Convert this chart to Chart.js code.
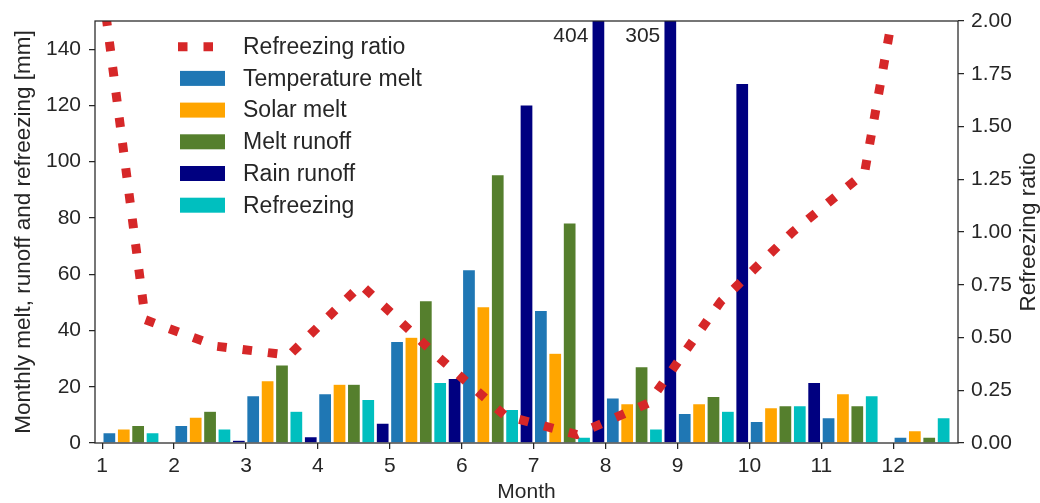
<!DOCTYPE html>
<html>
<head>
<meta charset="utf-8">
<title>Monthly melt, runoff and refreezing</title>
<script src="https://cdn.jsdelivr.net/npm/chart.js@4.4.1/dist/chart.umd.min.js"></script>
<style>
  html, body { margin: 0; padding: 0; background: #fff; }
  #chart { display: block; }
</style>
</head>
<body>
<canvas id="chart" width="1040" height="503"></canvas>
<script>
// ---------------------------------------------------------------------------
// Data (mm per month, ratio is unitless)
// ---------------------------------------------------------------------------
const months = [1, 2, 3, 4, 5, 6, 7, 8, 9, 10, 11, 12];

const temperatureMelt = [3.7, 6.3, 16.8, 17.5, 36.1, 61.6, 47.1, 16.0, 10.5, 7.7, 9.0, 2.1];
const solarMelt       = [5.0, 9.2, 22.2, 20.9, 37.6, 48.5, 31.9, 14.0, 14.0, 12.6, 17.5, 4.4];
const meltRunoff      = [6.3, 11.3, 27.8, 20.9, 50.6, 95.4, 78.2, 27.1, 16.6, 13.3, 13.3, 2.1];
const rainRunoff      = [0, 1.0, 2.3, 7.1, 23.0, 120.2, 404, 305, 127.8, 21.5, 0, 0];
const refreezing      = [3.7, 5.0, 11.3, 15.5, 21.5, 11.9, 2.1, 5.0, 11.3, 13.3, 16.8, 9.0];

// refreezing ratio, sampled between the monthly bar groups
const ratioMonths = [0.6, 1.6, 2.6, 3.6, 4.6, 5.6, 6.6, 7.6, 8.6, 9.6, 10.6, 11.6, 12.6];
const ratioValues = [3.22, 0.584, 0.458, 0.416, 0.75, 0.43, 0.13, 0.04, 0.19, 0.67, 1.0, 1.28, 3.19];

const leftTicks = [0, 20, 40, 60, 80, 100, 120, 140];
const rightTicks = [0, 0.25, 0.5, 0.75, 1.0, 1.25, 1.5, 1.75, 2.0];

// ---------------------------------------------------------------------------
// Style
// ---------------------------------------------------------------------------
const INK = '#262626';
const FAMILY = "'Liberation Sans', Arial, sans-serif";
const TICK_SIZE = 21;
const TITLE_SIZE = 22.5;
const LEGEND_SIZE = 23;

const tickFont = { family: FAMILY, size: TICK_SIZE };

// bars sit side by side inside each month, 0.2 month apart
function barPoints(values, offset) {
  return values.map((v, i) => ({ x: months[i] + offset, y: v }));
}

function barDataset(label, values, offset, color) {
  return {
    type: 'bar',
    label,
    data: barPoints(values, offset),
    backgroundColor: color,
    borderColor: '#ffffff',
    borderWidth: 0.6,
    grouped: false,
    barPercentage: 0.9,
    categoryPercentage: 1.0,
    yAxisID: 'y',
    order: 1
  };
}

// ---------------------------------------------------------------------------
// Plugins
// ---------------------------------------------------------------------------

// Full box around the plot, drawn over the bars
const frameBox = {
  id: 'frameBox',
  afterDatasetsDraw(chart) {
    const { ctx, chartArea: a } = chart;
    ctx.save();
    ctx.strokeStyle = INK;
    ctx.lineWidth = 1.25;
    ctx.strokeRect(a.left, a.top, a.right - a.left, a.bottom - a.top);
    ctx.restore();
  }
};

// Values of bars that run past the top of the axis are written beside them
const overflowLabels = {
  id: 'overflowLabels',
  afterDatasetsDraw(chart, args, opts) {
    const { ctx } = chart;
    const xs = chart.scales.x;
    const ys = chart.scales.y;
    ctx.save();
    ctx.font = `${TICK_SIZE}px ${FAMILY}`;
    ctx.fillStyle = INK;
    ctx.textAlign = 'right';
    ctx.textBaseline = 'middle';
    chart.data.datasets.forEach(ds => {
      if (!ds.labelOverflow) return;
      ds.data.forEach(p => {
        if (p.y <= ys.max) return;
        ctx.fillText(String(p.y), xs.getPixelForValue(p.x - opts.shift), ys.getPixelForValue(opts.at));
      });
    });
    ctx.restore();
  }
};

// Legend placed inside the plot, upper left
const insetLegend = {
  id: 'insetLegend',
  afterDraw(chart, args, opts) {
    const { ctx, chartArea } = chart;
    const x0 = chartArea.left + opts.left;
    let y = chartArea.top + opts.top;
    ctx.save();
    ctx.font = `${LEGEND_SIZE}px ${FAMILY}`;
    ctx.textBaseline = 'middle';
    chart.data.datasets.forEach(ds => {
      if (ds.type === 'line') {
        ctx.save();
        ctx.strokeStyle = ds.borderColor;
        ctx.lineWidth = ds.borderWidth;
        ctx.setLineDash(ds.borderDash);
        ctx.beginPath();
        ctx.moveTo(x0 - 2, y);
        ctx.lineTo(x0 + opts.handle, y);
        ctx.stroke();
        ctx.restore();
      } else {
        ctx.fillStyle = ds.backgroundColor;
        ctx.fillRect(x0, y - opts.patch / 2, opts.handle, opts.patch);
      }
      ctx.fillStyle = INK;
      ctx.fillText(ds.label, x0 + opts.textGap, y + 1);
      y += opts.rowHeight;
    });
    ctx.restore();
  }
};

// Right axis title, reading bottom to top like the left one
const sideTitle = {
  id: 'sideTitle',
  afterDraw(chart, args, opts) {
    const scale = chart.scales.y1;
    const { ctx, chartArea } = chart;
    ctx.save();
    ctx.translate(scale.right - opts.inset, (chartArea.top + chartArea.bottom) / 2);
    ctx.rotate(-Math.PI / 2);
    ctx.font = `${TITLE_SIZE}px ${FAMILY}`;
    ctx.fillStyle = INK;
    ctx.textAlign = 'center';
    ctx.textBaseline = 'middle';
    ctx.fillText(scale.options.title.text, 0, 0);
    ctx.restore();
  }
};

// ---------------------------------------------------------------------------
// Chart
// ---------------------------------------------------------------------------
const tickGrid = { drawOnChartArea: false, offset: false, tickLength: 6, color: INK, lineWidth: 1.25 };

const rainSet = barDataset('Rain runoff', rainRunoff, 0.9, '#000080');
rainSet.labelOverflow = true;

new Chart(document.getElementById('chart'), {
  type: 'bar',
  data: {
    datasets: [
      {
        type: 'line',
        label: 'Refreezing ratio',
        data: ratioMonths.map((m, i) => ({ x: m, y: ratioValues[i] })),
        borderColor: '#d62728',
        borderWidth: 9,
        borderDash: [9.5, 16],
        borderCapStyle: 'butt',
        borderJoinStyle: 'miter',
        pointRadius: 0,
        fill: false,
        tension: 0,
        yAxisID: 'y1',
        order: 0
      },
      barDataset('Temperature melt', temperatureMelt, 0.1, '#1f77b4'),
      barDataset('Solar melt', solarMelt, 0.3, '#ffa500'),
      barDataset('Melt runoff', meltRunoff, 0.5, '#557f2d'),
      rainSet,
      barDataset('Refreezing', refreezing, 0.7, '#00bfbf')
    ]
  },
  options: {
    responsive: false,
    animation: false,
    layout: { padding: { top: 21, right: 0, bottom: 0, left: 0 } },
    plugins: {
      legend: { display: false },
      tooltip: { enabled: false },
      insetLegend: { left: 85, top: 25.7, handle: 45, patch: 15, textGap: 63, rowHeight: 31.7 },
      overflowLabels: { shift: 0.14, at: 144.5 },
      sideTitle: { inset: 11.3 }
    },
    scales: {
      x: {
        type: 'linear',
        offset: false,
        min: 0.9,
        max: 12.9,
        afterBuildTicks: s => { s.ticks = months.map(v => ({ value: v })); },
        afterFit: s => { s.height = 60; },
        grid: tickGrid,
        border: { display: false },
        ticks: { color: INK, font: tickFont, padding: 5, maxRotation: 0 },
        title: {
          display: true,
          text: 'Month',
          color: INK,
          font: { family: FAMILY, size: TICK_SIZE, lineHeight: 1 },
          padding: { top: 0, bottom: 0 }
        }
      },
      y: {
        position: 'left',
        min: 0,
        max: 150,
        afterBuildTicks: s => { s.ticks = leftTicks.map(v => ({ value: v })); },
        afterFit: s => { s.width = 95; },
        grid: tickGrid,
        border: { display: false },
        ticks: { color: INK, font: tickFont, padding: 8 },
        title: {
          display: true,
          text: 'Monthly melt, runoff and refreezing [mm]',
          color: INK,
          font: { family: FAMILY, size: TITLE_SIZE },
          padding: { top: 10, bottom: 0 }
        }
      },
      y1: {
        position: 'right',
        min: 0,
        max: 2,
        afterBuildTicks: s => { s.ticks = rightTicks.map(v => ({ value: v })); },
        afterFit: s => { s.width = 82; },
        grid: tickGrid,
        border: { display: false },
        ticks: { color: INK, font: tickFont, padding: 7, callback: v => v.toFixed(2) },
        title: { display: false, text: 'Refreezing ratio' }
      }
    }
  },
  plugins: [frameBox, overflowLabels, insetLegend, sideTitle]
});
</script>
</body>
</html>
